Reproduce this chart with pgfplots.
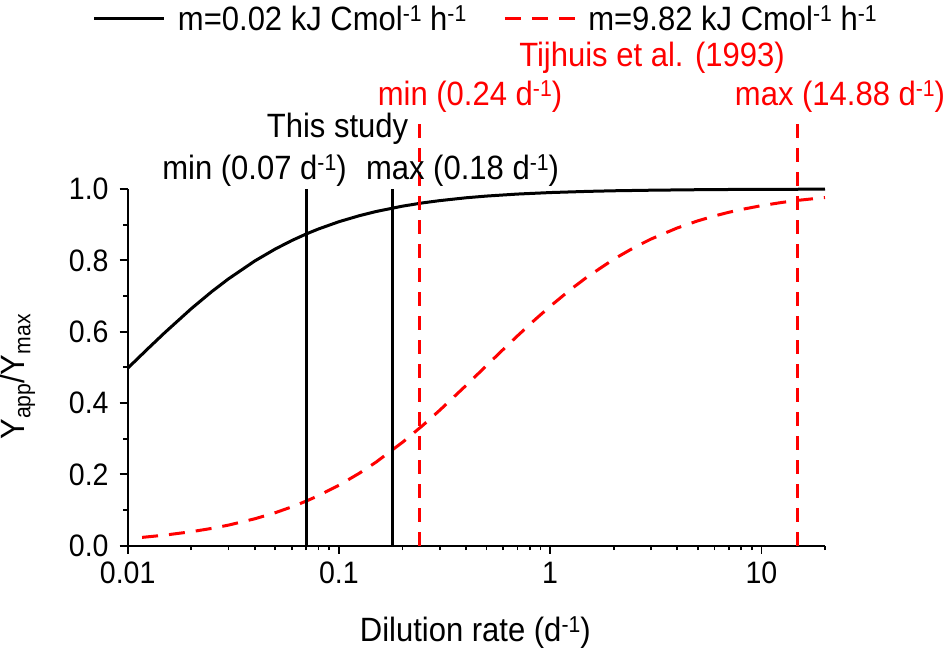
\documentclass[border=0pt]{standalone}
\usepackage{fontspec}
\setmainfont{Liberation Sans}[FakeStretch=0.92]
\usepackage{pgfplots}
\pgfplotsset{compat=1.18}
\newcommand\supm{\raisebox{9bp}{\fontsize{23bp}{23bp}\selectfont -1}}
\newcommand\subx[1]{\raisebox{-5.5bp}{\fontsize{23bp}{23bp}\selectfont #1}}
\begin{document}
\begin{tikzpicture}[font=\fontsize{33.7bp}{40bp}\selectfont]
\path[use as bounding box] (0,0) rectangle (952bp,652bp);
\begin{axis}[
  at={(127.7bp,106.3bp)}, anchor=south west,
  scale only axis, width=697.3bp, height=356.7bp,
  xmode=log, xmin=0.01, xmax=20, ymin=0, ymax=1,
  axis x line*=bottom, axis y line*=left,
  axis line style={line width=2bp, black},
  tick align=outside,
  major tick length=8bp, minor tick length=4.5bp,
  every tick/.append style={black, line width=1.8bp},
  xtick={0.01,0.1,1,10}, xticklabels={0.01,0.1,1,10},
  minor xtick={0.02,0.03,0.04,0.05,0.06,0.07,0.08,0.09,0.2,0.3,0.4,0.5,0.6,0.7,0.8,0.9,2,3,4,5,6,7,8,9,20},
  ytick={0,0.2,0.4,0.6,0.8,1}, yticklabels={0.0,0.2,0.4,0.6,0.8,1.0},
  minor ytick={0.1,0.3,0.5,0.7,0.9},
  ticklabel style={font=\fontsize{31bp}{37bp}\selectfont},
  xticklabel style={inner sep=0pt, yshift=-8bp},
  yticklabel style={inner sep=0pt, xshift=-11bp},
  xlabel={Dilution rate (d\supm)},
  xlabel style={at={(axis description cs:0.4985,-0.269)}, anchor=base, inner sep=0pt},
  ylabel={Y\subx{app}/Y\subx{max}},
  ylabel style={at={(axis description cs:-0.1473,0.473)}, anchor=base, inner sep=0pt},
  clip=false,
  legend columns=2,
  legend image code/.code={\draw[#1] (0bp,0bp) -- (70bp,0bp);},
  legend style={
    at={(axis description cs:-0.0498,1.4766)}, anchor=west,
    draw=none, fill=none, inner sep=0pt, outer sep=0pt,
    nodes={inner sep=0pt},
    /tikz/every odd column/.append style={column sep=12bp},
    /tikz/every even column/.append style={column sep=37bp},
    font=\fontsize{33.7bp}{40bp}\selectfont,
  },
]
\addplot[black, line width=3bp] coordinates {
(0.01,0.4975) (0.0125,0.5531) (0.015,0.5976) (0.02,0.6645) (0.025,0.7123)
(0.03,0.7481) (0.04,0.7984) (0.05,0.8319) (0.06,0.8559) (0.07,0.8739)
(0.08,0.8879) (0.1,0.9083) (0.125,0.9252) (0.15,0.9369) (0.2,0.9519)
(0.25,0.9612) (0.3,0.9674) (0.4,0.9754) (0.5,0.9802) (0.7,0.9858)
(1,0.9900) (1.5,0.9933) (2,0.9950) (3,0.9966) (5,0.9980) (7,0.9986)
(10,0.9990) (20,0.9995)};
\addlegendentry{m=0.02 kJ Cmol\supm\ h\supm}
\addplot[red, line width=3bp, dash pattern=on 16bp off 11bp] coordinates {
(0.0117,0.0233) (0.015,0.0297) (0.02,0.0392) (0.025,0.0485) (0.03,0.0577)
(0.04,0.0755) (0.05,0.0926) (0.06,0.1091) (0.07,0.1250) (0.08,0.1404)
(0.1,0.1695) (0.125,0.2033) (0.15,0.2344) (0.2,0.2899) (0.25,0.3378)
(0.3,0.3797) (0.4,0.4494) (0.5,0.5051) (0.6,0.5505) (0.7,0.5882)
(0.85,0.6343) (1,0.6711) (1.25,0.7184) (1.5,0.7538) (2,0.8032)
(2.5,0.8361) (3,0.8596) (4,0.8909) (5,0.9107) (6,0.9245) (7,0.9346)
(8,0.9423) (10,0.9533) (12.5,0.9623) (15,0.9684) (20,0.9761)};
\addlegendentry{m=9.82 kJ Cmol\supm\ h\supm}
\addplot[black, line width=2.8bp, forget plot] coordinates {(0.07,0) (0.07,1)};
\addplot[black, line width=2.8bp, forget plot] coordinates {(0.18,0) (0.18,1)};
\addplot[red, line width=3bp, dash pattern=on 14bp off 10bp, forget plot] coordinates {(0.24,0) (0.24,1.19)};
\addplot[red, line width=3bp, dash pattern=on 14bp off 10bp, forget plot] coordinates {(14.88,0) (14.88,1.19)};
\end{axis}
\node[red, anchor=base, inner sep=0pt] at (652bp,585.3bp) {Tijhuis et al. (1993)};
\node[red, anchor=base, inner sep=0pt] at (470bp,546bp) {min (0.24 d\supm)};
\node[red, anchor=base, inner sep=0pt] at (840bp,546bp) {max (14.88 d\supm)};
\node[anchor=base, inner sep=0pt] at (337.5bp,514bp) {This study};
\node[anchor=base, inner sep=0pt] at (254.5bp,472bp) {min (0.07 d\supm)};
\node[anchor=base, inner sep=0pt] at (462.5bp,472bp) {max (0.18 d\supm)};
\end{tikzpicture}
\end{document}
